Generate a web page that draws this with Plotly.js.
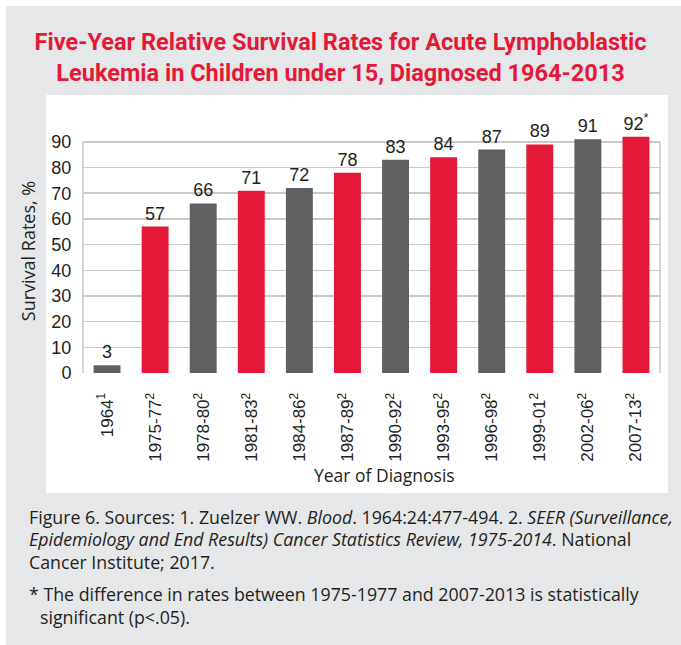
<!DOCTYPE html>
<html>
<head>
<meta charset="utf-8">
<script src="https://cdn.plot.ly/plotly-3.0.1.min.js"></script>
<style>html,body{margin:0;padding:0;background:#fff;}#chart{width:681px;height:645px;}</style>
</head>
<body>
<div id="chart"></div>
<script>
var categories = ["1964<sup>1</sup>", "1975-77<sup>2</sup>", "1978-80<sup>2</sup>", "1981-83<sup>2</sup>", "1984-86<sup>2</sup>", "1987-89<sup>2</sup>", "1990-92<sup>2</sup>", "1993-95<sup>2</sup>", "1996-98<sup>2</sup>", "1999-01<sup>2</sup>", "2002-06<sup>2</sup>", "2007-13<sup>2</sup>"];
var survival = [3, 57, 66, 71, 72, 78, 83, 84, 87, 89, 91, 92];
var valueLabels = ["3", "57", "66", "71", "72", "78", "83", "84", "87", "89", "91", "92<sup>*</sup>"];
var yTicks = [0, 10, 20, 30, 40, 50, 60, 70, 80, 90];

var RED = "#e31937", GRAY = "#5f6062";
var colors = survival.map(function(v, i){ return i % 2 === 0 ? GRAY : RED; });

// plot area in pixels
var W = 681, H = 645, L = 83, R = 660, T = 129, B = 373;
function px(x){ return (x - L) / (R - L); }
function py(y){ return (B - y) / (B - T); }

var trace = {
  type: "bar",
  x: categories,
  y: survival,
  marker: {color: colors},
  text: valueLabels,
  textposition: "outside",
  cliponaxis: false,
  constraintext: "none",
  textfont: {family: "Liberation Sans, Arial, sans-serif", size: 18, color: "#231f20"},
  hoverinfo: "x+y"
};

var textFont = {family: "Open Sans, sans-serif", size: 17.8, color: "#231f20"};
function note(text, x, y){
  return {xref: "paper", yref: "paper", x: px(x), y: py(y), xanchor: "left", yanchor: "middle",
          text: text, showarrow: false, font: textFont, align: "left"};
}

var layout = {
  width: W, height: H,
  margin: {l: L, r: W - R, t: T, b: H - B, pad: 0},
  paper_bgcolor: "#ffffff",
  plot_bgcolor: "rgba(0,0,0,0)",
  showlegend: false,
  bargap: 0.44,
  title: {
    text: "Five-Year Relative Survival Rates for Acute Lymphoblastic<br>Leukemia in Children under 15, Diagnosed 1964-2013",
    font: {family: "Roboto, sans-serif", size: 23.5, color: RED, weight: "bold"},
    x: 0.5, xref: "container", xanchor: "center",
    y: 1 - 50 / H, yref: "container", yanchor: "middle"
  },
  xaxis: {
    type: "category",
    tickangle: -90,
    tickfont: {family: "Liberation Sans, Arial, sans-serif", size: 17, color: "#231f20"},
    ticks: "outside", ticklen: 12, tickcolor: "rgba(0,0,0,0)",
    showgrid: false, showline: false, zeroline: false,
    automargin: false
  },
  yaxis: {
    range: [0, 95],
    tickvals: yTicks,
    ticktext: yTicks.map(String),
    tickfont: {family: "Liberation Sans, Arial, sans-serif", size: 18, color: "#231f20"},
    ticks: "outside", ticklen: 7, tickcolor: "rgba(0,0,0,0)",
    showgrid: true, gridcolor: "#c9c9c9", gridwidth: 1.5,
    zeroline: false, showline: false,
    title: {text: "Survival Rates, %", font: {family: "Open Sans, sans-serif", size: 18, color: "#231f20"}, standoff: 11},
    automargin: false
  },
  shapes: [
    {type: "rect", layer: "below", xref: "paper", yref: "paper", x0: px(6), x1: px(690), y0: py(6), y1: py(660), fillcolor: "#e6e7e8", line: {width: 0}},
    {type: "rect", layer: "below", xref: "paper", yref: "paper", x0: px(46), x1: px(668), y0: py(95), y1: py(493), fillcolor: "#ffffff", line: {width: 0}},
    {type: "line", layer: "below", xref: "paper", yref: "y", x0: 0, x1: 0, y0: 0, y1: 90, line: {color: "#c9c9c9", width: 1.5}},
    {type: "line", layer: "below", xref: "paper", yref: "y", x0: 1, x1: 1, y0: 0, y1: 90, line: {color: "#c9c9c9", width: 1.5}}
  ],
  annotations: [
    {xref: "paper", yref: "paper", x: px(384), y: py(475), xanchor: "center", yanchor: "middle", showarrow: false,
     text: "Year of Diagnosis", font: {family: "Open Sans, sans-serif", size: 17.5, color: "#231f20"}},
    note("Figure 6. Sources: 1. Zuelzer WW. <i>Blood</i>. 1964:24:477-494. 2. <i>SEER (Surveillance,</i>", 27, 516.5),
    note("<i>Epidemiology and End Results) Cancer Statistics Review, 1975-2014</i>. National", 27, 539),
    note("Cancer Institute; 2017.", 27, 562),
    note("* The difference in rates between 1975-1977 and 2007-2013 is statistically", 27, 594),
    note("significant (p<.05).", 38, 617)
  ]
};

Plotly.newPlot("chart", [trace], layout, {displayModeBar: false, staticPlot: true});
</script>
</body>
</html>
